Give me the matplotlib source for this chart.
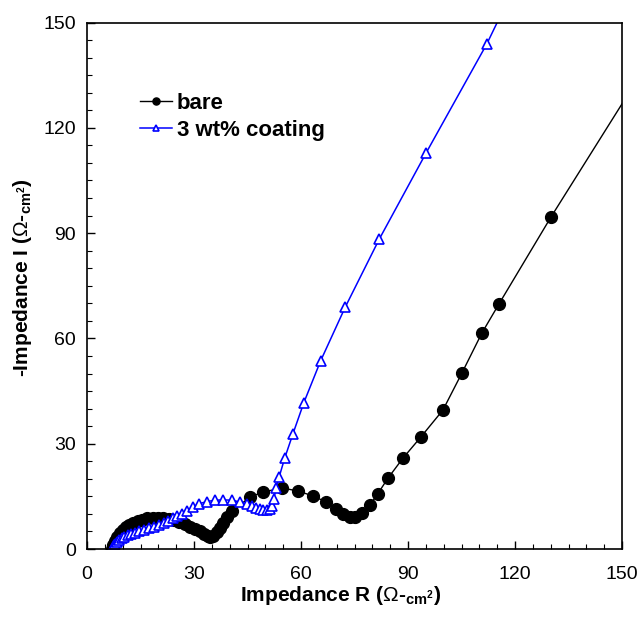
import matplotlib
matplotlib.use('Agg')
import matplotlib.pyplot as plt
from matplotlib.ticker import MultipleLocator

plt.rcParams['font.family'] = ['Liberation Sans', 'DejaVu Sans']
plt.rcParams['mathtext.fontset'] = 'custom'
plt.rcParams['mathtext.rm'] = 'Liberation Sans'
plt.rcParams['mathtext.bf'] = 'Liberation Sans:bold'

# bare sample (Nyquist plot)
bare_re = [7.0, 7.4, 7.9, 8.5, 9.2, 10.0, 10.9, 11.9, 13.0, 14.2, 15.5, 16.9, 18.4, 19.9,
           21.4, 22.9, 24.4, 25.9, 27.4, 28.9, 30.3, 31.6, 32.8, 33.8, 34.5, 35.4, 36.4,
           37.2, 38.1, 39.3, 40.7, 45.7, 49.3, 54.7, 59.2, 63.4, 67.0, 69.8, 71.8, 73.7,
           75.1, 77.1, 79.3, 81.5, 84.4, 88.6, 93.6, 99.8, 105.1, 110.7, 115.5, 130.1, 160.0]
bare_im = [0.0, 1.2, 2.4, 3.5, 4.5, 5.4, 6.2, 6.9, 7.5, 8.0, 8.4, 8.7, 8.8, 8.9,
           8.8, 8.6, 8.2, 7.7, 7.1, 6.4, 5.7, 5.0, 4.3, 3.7, 3.4, 3.6, 4.8,
           6.0, 7.4, 9.0, 10.8, 14.8, 16.2, 17.4, 16.5, 15.1, 13.4, 11.4, 10.0, 9.1,
           9.1, 10.3, 12.5, 15.7, 20.2, 25.9, 31.9, 39.6, 50.1, 61.5, 69.8, 94.6, 143.0]

# 3 wt% coating
coat_re = [7.0, 7.2, 7.5, 7.9, 8.4, 9.0, 9.7, 10.5, 11.4, 12.4, 13.5, 14.7, 16.0, 17.4,
           18.8, 20.2, 21.5, 22.8, 24.0, 25.2, 26.5, 28.0, 29.8, 31.4, 33.6, 35.8, 38.2,
           40.6, 42.9, 44.8, 46.2, 47.4, 48.4, 49.4, 50.4, 51.2, 51.8, 52.4, 53.0, 53.9,
           55.4, 57.7, 60.8, 65.5, 72.4, 81.9, 95.0, 112.1, 125.0]
coat_im = [0.0, 0.5, 1.0, 1.5, 2.0, 2.5, 3.0, 3.5, 3.9, 4.3, 4.7, 5.1, 5.5, 5.9,
           6.3, 6.8, 7.4, 8.0, 8.7, 9.4, 10.1, 10.9, 12.0, 12.9, 13.5, 13.9, 14.0,
           13.9, 13.4, 12.9, 12.3, 11.7, 11.3, 11.1, 11.1, 11.5, 12.3, 14.2, 17.3, 20.6,
           25.8, 32.7, 41.7, 53.6, 68.9, 88.2, 112.7, 143.9, 171.0]

fig = plt.figure(figsize=(6.41, 6.17), dpi=100)
ax = fig.add_axes([87/641, 1-549/617, 535/641, 526.5/617])

ax.plot(bare_re, bare_im, color='black', lw=1.0, marker='o', ms=8.5,
        mfc='black', mec='black', label='bare')
ax.plot(coat_re, coat_im, color='#0000ff', lw=1.1, marker='^', ms=7.5,
        mfc='white', mec='#0000ff', mew=1.2, label='3 wt% coating')

ax.set_xlim(0, 150)
ax.set_ylim(0, 150)
ax.xaxis.set_major_locator(MultipleLocator(30))
ax.yaxis.set_major_locator(MultipleLocator(30))
ax.xaxis.set_minor_locator(MultipleLocator(5))
ax.yaxis.set_minor_locator(MultipleLocator(5))
ax.tick_params(which='both', direction='in', top=False, right=False, labelsize=14)
ax.tick_params(which='major', length=6, width=1)
ax.tick_params(which='minor', length=3.5, width=0.8)
ax.tick_params(axis='x', pad=12)
ax.tick_params(axis='y', pad=8)
for s in ax.spines.values():
    s.set_linewidth(1.2)

unit = r' ($\mathrm{\Omega}$-$\mathbf{_{cm^2}}$)'
ax.set_xlabel('Impedance R' + unit, fontsize=15, fontweight='bold')
ax.set_ylabel('-Impedance I' + unit, fontsize=15, fontweight='bold')
ax.xaxis.set_label_coords(0.475, -0.066)
ax.yaxis.set_label_coords(-0.10, 0.515)

leg = ax.legend(loc='upper left', bbox_to_anchor=(0.099, 0.866), frameon=False,
                prop={'size': 16, 'weight': 'bold'}, handlelength=1.45,
                handletextpad=0.2, labelspacing=0.25, markerscale=0.6,
                borderaxespad=0, borderpad=0)

fig.savefig('out.png', dpi=100)
